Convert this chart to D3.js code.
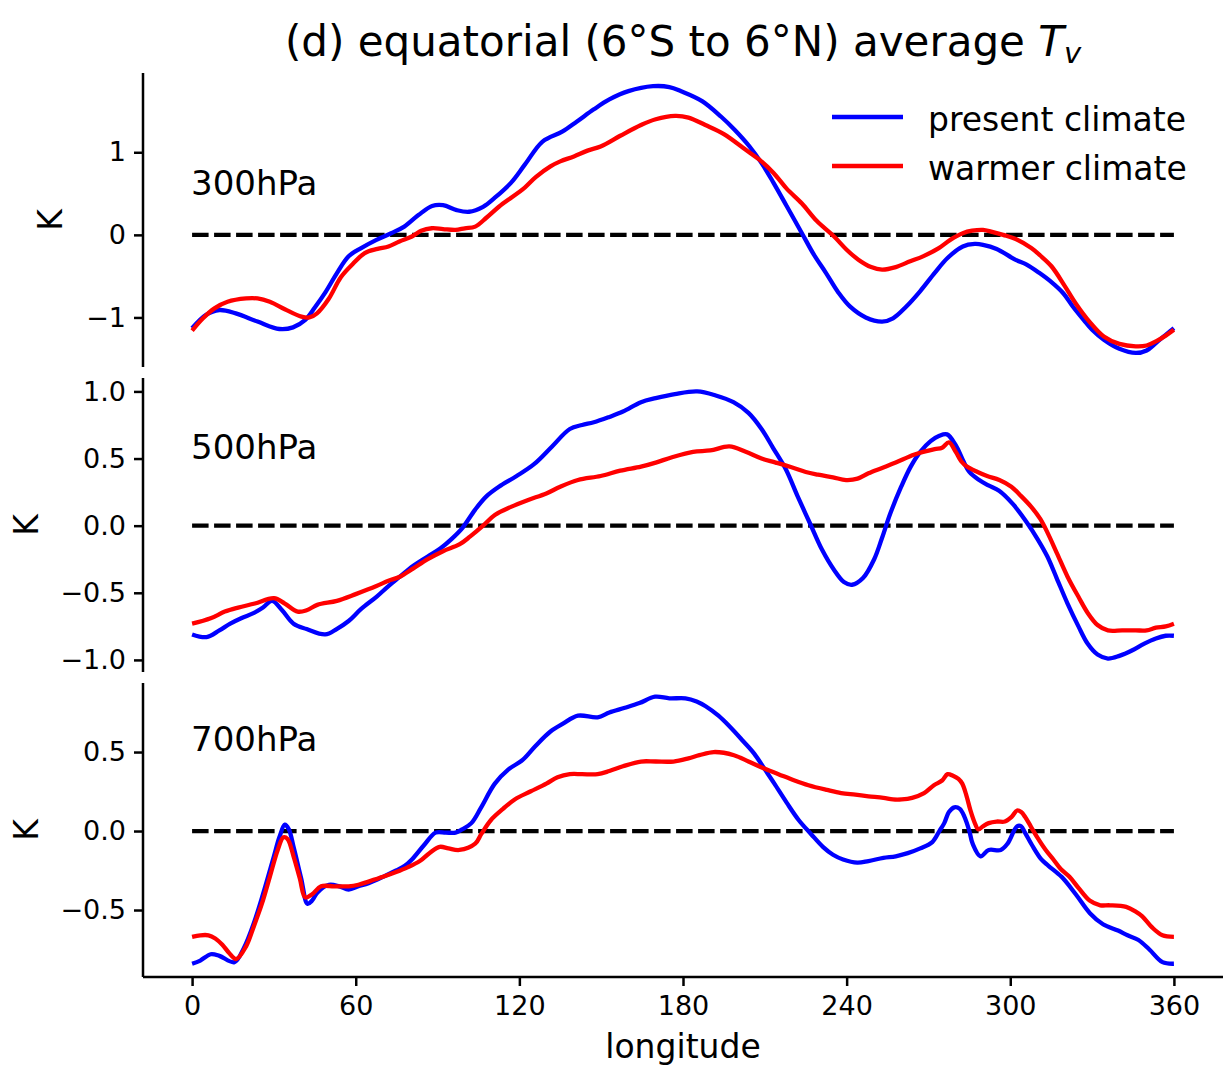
<!DOCTYPE html>
<html>
<head>
<meta charset="utf-8">
<script src="https://cdn.jsdelivr.net/npm/d3@7"></script>
<style>
  html, body { margin: 0; padding: 0; background: #fff; }
  svg { display: block; font-family: "DejaVu Sans", sans-serif; }
</style>
</head>
<body>
<svg id="chart" width="1232" height="1074"></svg>
<script>
// ---------------- DATA ----------------
const levels = ["300hPa", "500hPa", "700hPa"];
const seriesNames = ["present climate", "warmer climate"];
const xTicks = [0, 60, 120, 180, 240, 300, 360];
const yTicks300 = [-1, 0, 1];
const yTicks500 = [-1.0, -0.5, 0.0, 0.5, 1.0];
const yTicks700 = [-0.5, 0.0, 0.5];

const p300Present = [[0,-1.13],[5,-0.97],[10,-0.91],[16,-0.95],[24,-1.05],[32,-1.14],[37,-1.12],[41.5,-1.03],[45,-0.88],[48.8,-0.70],[53,-0.47],[57.4,-0.26],[62,-0.16],[67.6,-0.06],[73,0.02],[77.8,0.10],[83,0.24],[88,0.35],[92,0.36],[97,0.30],[101.6,0.28],[106.7,0.34],[111,0.45],[116.9,0.63],[122,0.85],[128.5,1.13],[135.7,1.25],[141,1.37],[147.3,1.52],[153,1.64],[160,1.74],[169,1.80],[175,1.79],[179.3,1.74],[187,1.62],[194,1.43],[199,1.27],[204.4,1.07],[209,0.86],[213.2,0.63],[218,0.35],[223.6,0.02],[228,-0.24],[232.4,-0.46],[237,-0.70],[241.3,-0.87],[247,-1.0],[253,-1.05],[257,-1.01],[261.8,-0.87],[267,-0.68],[272.3,-0.46],[277,-0.28],[282.6,-0.14],[287,-0.11],[290,-0.12],[295,-0.17],[301.8,-0.30],[306,-0.36],[310.6,-0.46],[315,-0.57],[319.5,-0.71],[323,-0.87],[326.9,-1.03],[330,-1.15],[334.3,-1.27],[340,-1.38],[346,-1.43],[350,-1.40],[353.4,-1.31],[357,-1.21],[360,-1.13]];
const p300Warmer = [[0,-1.16],[4,-1.01],[8.2,-0.89],[13,-0.81],[19.8,-0.77],[24,-0.77],[28.5,-0.81],[34,-0.90],[40.1,-0.99],[43,-1.0],[45.8,-0.95],[50,-0.78],[54.6,-0.51],[59,-0.35],[63.3,-0.22],[68,-0.17],[72,-0.14],[76,-0.08],[80.6,-0.02],[84,0.05],[87.9,0.08],[92,0.07],[96.6,0.06],[100,0.08],[103.8,0.10],[108,0.21],[112.5,0.34],[117,0.45],[121.2,0.55],[126,0.70],[131.4,0.83],[135,0.89],[140,0.95],[145,1.02],[149.8,1.07],[157,1.20],[164.6,1.33],[170,1.40],[177.1,1.44],[182,1.42],[188.2,1.33],[195,1.22],[203,1.03],[208,0.91],[213.2,0.75],[218,0.56],[223.6,0.38],[229,0.17],[235.4,-0.02],[240,-0.18],[244.3,-0.30],[249,-0.39],[253,-0.42],[258,-0.39],[263.3,-0.32],[268,-0.26],[273.8,-0.16],[278,-0.06],[282.6,0.02],[286,0.05],[290,0.06],[293,0.04],[297.4,0.0],[302,-0.05],[307.7,-0.16],[311,-0.25],[315.1,-0.38],[320,-0.62],[324,-0.83],[329,-1.05],[334.3,-1.23],[340,-1.32],[346,-1.35],[350,-1.34],[353.4,-1.29],[357,-1.22],[360,-1.15]];

const p500Present = [[0,-0.81],[5.3,-0.83],[10,-0.78],[14,-0.73],[18,-0.69],[22.7,-0.65],[26,-0.61],[29.3,-0.56],[33,-0.63],[37.2,-0.73],[42,-0.77],[48.8,-0.81],[53,-0.77],[57.4,-0.71],[62,-0.62],[67.6,-0.53],[72,-0.45],[76.2,-0.38],[81,-0.30],[86.4,-0.23],[91,-0.17],[95.1,-0.10],[99,-0.02],[103.8,0.12],[108,0.22],[112.5,0.29],[119,0.37],[125.5,0.46],[132,0.59],[138.5,0.72],[143,0.75],[147.3,0.77],[153,0.81],[158,0.85],[164.6,0.92],[170,0.95],[177,0.98],[185.2,1.00],[192,0.97],[198.5,0.92],[204,0.84],[208.8,0.72],[213,0.58],[217.7,0.42],[222,0.22],[226.5,0.02],[231,-0.18],[235.4,-0.33],[239,-0.42],[242,-0.44],[246,-0.39],[250.1,-0.25],[253,-0.09],[256,0.09],[260,0.29],[263.5,0.44],[267,0.55],[270.8,0.63],[274,0.67],[276.8,0.68],[280,0.60],[282.6,0.49],[285,0.40],[288.6,0.34],[292,0.30],[295.9,0.26],[301,0.16],[306.2,0.02],[310,-0.10],[313.6,-0.23],[317,-0.39],[321,-0.58],[325,-0.75],[328.4,-0.88],[332,-0.96],[335.8,-0.99],[340,-0.97],[344.6,-0.93],[349,-0.88],[353.4,-0.84],[357,-0.82],[360,-0.82]];
const p500Warmer = [[0,-0.73],[6.8,-0.69],[12,-0.64],[16.9,-0.61],[23,-0.58],[30,-0.54],[34,-0.58],[38.7,-0.64],[42,-0.63],[45.9,-0.59],[53.1,-0.56],[60,-0.51],[67.6,-0.45],[72,-0.41],[76.2,-0.38],[81,-0.32],[86.4,-0.25],[92,-0.19],[98,-0.14],[102,-0.08],[106.7,0.0],[111,0.08],[116.9,0.14],[123,0.19],[129.9,0.24],[135,0.29],[141.5,0.34],[149.8,0.37],[157,0.41],[164.6,0.44],[170,0.47],[176,0.51],[183.7,0.55],[190,0.56],[197,0.59],[203,0.55],[208.8,0.50],[214,0.47],[220.6,0.43],[225,0.40],[229.5,0.38],[235,0.36],[239.8,0.34],[244,0.35],[248,0.39],[253,0.43],[258,0.47],[264.9,0.53],[272.3,0.57],[275,0.58],[277.5,0.62],[280,0.55],[282,0.48],[284.1,0.44],[288,0.40],[291.5,0.37],[296,0.34],[300.4,0.29],[304,0.22],[307.7,0.14],[311,0.05],[313.6,-0.05],[317,-0.20],[321,-0.38],[325,-0.53],[328.4,-0.65],[332,-0.74],[335.8,-0.78],[341,-0.78],[346,-0.78],[350,-0.78],[353.4,-0.76],[357,-0.75],[360,-0.73]];

const p700Present = [[0,-0.84],[3,-0.82],[6.8,-0.78],[10,-0.79],[15.5,-0.83],[19,-0.74],[22.7,-0.58],[26,-0.40],[30,-0.16],[32,-0.04],[34,0.04],[35.5,0.01],[37.2,-0.10],[40,-0.30],[42.3,-0.46],[44,-0.44],[45.9,-0.39],[50.2,-0.34],[54,-0.35],[57.4,-0.37],[61,-0.35],[64.7,-0.33],[70,-0.29],[74.8,-0.25],[78,-0.22],[80.6,-0.18],[85,-0.09],[89.3,-0.01],[93,-0.01],[96.6,-0.01],[99,0.01],[102.4,0.05],[106,0.15],[111,0.30],[116,0.39],[121.2,0.45],[126,0.54],[131.4,0.63],[136,0.68],[141.5,0.73],[148.7,0.72],[153,0.75],[158.7,0.78],[164,0.81],[169.8,0.85],[175,0.84],[180.9,0.84],[185,0.82],[188.3,0.79],[193,0.73],[197.2,0.66],[202,0.57],[206.1,0.49],[210,0.39],[213.5,0.30],[218,0.18],[222.4,0.07],[227,-0.02],[231.3,-0.10],[235,-0.15],[238.7,-0.18],[243.9,-0.20],[248,-0.19],[253.5,-0.17],[258,-0.16],[262.4,-0.14],[267,-0.11],[271.4,-0.07],[274,0.0],[275.8,0.05],[277.5,0.12],[279.5,0.15],[281.5,0.14],[283.2,0.09],[285,0.0],[286.2,-0.08],[289.1,-0.16],[292.1,-0.12],[296.5,-0.12],[299,-0.08],[302.5,0.03],[304,0.03],[305.4,-0.01],[308,-0.09],[311.4,-0.18],[314,-0.22],[318.8,-0.29],[324,-0.40],[329.2,-0.52],[334,-0.59],[339.5,-0.63],[343,-0.66],[347,-0.69],[351,-0.75],[355.8,-0.83],[360,-0.84]];
const p700Warmer = [[0,-0.67],[3,-0.66],[6,-0.66],[8.5,-0.68],[11.1,-0.72],[13.5,-0.77],[16.2,-0.81],[19.8,-0.73],[22.5,-0.61],[25.6,-0.46],[28.5,-0.29],[31.4,-0.12],[33.5,-0.04],[35,-0.05],[37.2,-0.16],[39.5,-0.30],[41.5,-0.42],[44,-0.40],[47.3,-0.35],[52,-0.35],[57.4,-0.35],[61,-0.34],[64.7,-0.32],[70,-0.29],[74.8,-0.26],[79,-0.23],[83.5,-0.19],[87,-0.14],[90.8,-0.10],[94,-0.11],[98,-0.12],[103.8,-0.08],[106,-0.02],[109.6,0.07],[114,0.14],[118.3,0.20],[124,0.25],[129.9,0.30],[134,0.34],[138.5,0.36],[143,0.36],[148.7,0.36],[153,0.38],[158,0.41],[164.6,0.44],[170,0.44],[176.5,0.44],[182,0.46],[186,0.48],[191.3,0.50],[198.7,0.48],[204,0.44],[209.1,0.40],[215,0.36],[220.9,0.32],[226,0.29],[232.8,0.26],[238,0.24],[243.2,0.23],[248,0.22],[253.5,0.21],[257,0.20],[260.2,0.20],[264,0.21],[268.4,0.24],[272,0.29],[275,0.32],[277,0.36],[279,0.35],[281,0.33],[282.4,0.30],[284,0.22],[285.4,0.13],[287,0.05],[288.3,0.01],[290,0.03],[292.1,0.05],[295,0.06],[298,0.06],[300.5,0.09],[302.5,0.13],[304,0.12],[305.4,0.09],[307.5,0.03],[309.9,-0.04],[313,-0.12],[315.8,-0.18],[318.5,-0.24],[321.7,-0.29],[325,-0.36],[329.1,-0.44],[333,-0.47],[336.5,-0.47],[342.5,-0.48],[346,-0.51],[348.4,-0.54],[352,-0.61],[355.8,-0.66],[360,-0.67]];

// ---------------- LAYOUT ----------------
const colors = ["#0000ff", "#ff0000"];
const svg = d3.select("#chart");
const left = 143, right = 1223;
const panelTops = [73, 378, 683];
const panelH = 294;
const yDomains = [[-1.6, 1.96], [-1.09, 1.10], [-0.924, 0.937]];
const yTickSets = [yTicks300, yTicks500, yTicks700];
const yFormats = [d3.format("d"), d3.format(".1f"), d3.format(".1f")];
const panelData = [[p300Present, p300Warmer], [p500Present, p500Warmer], [p700Present, p700Warmer]];
const labelX = [50, 26, 26];
const levelLabelY = [195, 459, 751];

const x = d3.scaleLinear().domain([-18, 378]).range([left, right]);

const line = d3.line()
  .x(d => x(d[0]))
  .y(d => d[1])
  .curve(d3.curveCatmullRom.alpha(0.5));

levels.forEach((lev, i) => {
  const top = panelTops[i];
  const y = d3.scaleLinear().domain(yDomains[i]).range([top + panelH, top]);
  const g = svg.append("g");

  // zero reference line
  g.append("line")
    .attr("x1", x(0)).attr("x2", x(360))
    .attr("y1", y(0)).attr("y2", y(0))
    .attr("stroke", "#000").attr("stroke-width", 4.3)
    .attr("stroke-dasharray", "16.5,5.5");

  panelData[i].forEach((series, k) => {
    g.append("path")
      .attr("d", line(series.map(d => [d[0], y(d[1])])))
      .attr("fill", "none")
      .attr("stroke", colors[k])
      .attr("stroke-width", 4.3)
      .attr("stroke-linejoin", "round")
      .attr("stroke-linecap", "butt");
  });

  // y axis
  const ax = g.append("g")
    .attr("transform", `translate(${left},0)`)
    .call(d3.axisLeft(y).tickValues(yTickSets[i]).tickFormat(yFormats[i]).tickSize(9).tickPadding(8));
  ax.select(".domain").attr("stroke-width", 2.5).attr("d", `M0,${top + panelH}V${top}`);
  ax.selectAll(".tick line").attr("stroke-width", 2.5);
  ax.selectAll(".tick text").attr("font-size", 27).attr("font-family", "DejaVu Sans").attr("fill", "#000");

  // y label
  svg.append("text")
    .attr("transform", `translate(${labelX[i]},${top + panelH / 2}) rotate(-90)`)
    .attr("text-anchor", "middle")
    .attr("dy", "0.36em")
    .attr("font-size", 33)
    .text("K");

  // level label
  svg.append("text")
    .attr("x", x(0) - 1).attr("y", levelLabelY[i])
    .attr("font-size", 34)
    .text(lev);

  if (i === 2) {
    const bx = g.append("g")
      .attr("transform", `translate(0,${top + panelH})`)
      .call(d3.axisBottom(x).tickValues(xTicks).tickFormat(d3.format("d")).tickSize(9).tickPadding(10));
    bx.select(".domain").attr("stroke-width", 2.5).attr("d", `M${left},0H${right}`);
    bx.selectAll(".tick line").attr("stroke-width", 2.5);
    bx.selectAll(".tick text").attr("font-size", 27).attr("font-family", "DejaVu Sans").attr("fill", "#000");
  }
});

// x label
svg.append("text")
  .attr("x", (left + right) / 2).attr("y", 1058)
  .attr("text-anchor", "middle")
  .attr("font-size", 33)
  .text("longitude");

// title
const title = svg.append("text")
  .attr("x", (left + right) / 2).attr("y", 56)
  .attr("text-anchor", "middle")
  .attr("font-size", 42);
title.append("tspan").text("(d) equatorial (6°S to 6°N) average ");
title.append("tspan").attr("font-style", "italic").text("T");
title.append("tspan").attr("font-style", "italic").attr("font-size", 29).attr("dy", 7).text("v");

// legend
const legend = svg.append("g");
seriesNames.forEach((name, k) => {
  const ly = 117 + k * 49;
  legend.append("line")
    .attr("x1", 832).attr("x2", 903)
    .attr("y1", ly).attr("y2", ly)
    .attr("stroke", colors[k]).attr("stroke-width", 4.3);
  legend.append("text")
    .attr("x", 928).attr("y", ly + 14)
    .attr("font-size", 33)
    .text(name);
});
</script>
</body>
</html>
